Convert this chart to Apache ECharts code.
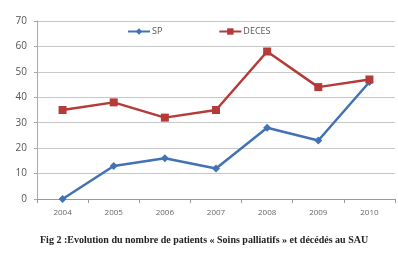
<!DOCTYPE html>
<html><head><meta charset="utf-8">
<script src="https://cdn.jsdelivr.net/npm/echarts@6/dist/echarts.min.js"></script>
<style>html,body{margin:0;padding:0;background:#fff}#c{width:398px;height:259px}</style>
</head><body><div id="c"></div>
<script>
const categories = ['2004','2005','2006','2007','2008','2009','2010'];
const sp = [0, 13, 16, 12, 28, 23, 46];
const deces = [35, 38, 32, 35, 58, 44, 47];
const yTicks = [0, 10, 20, 30, 40, 50, 60, 70];
const caption = 'Fig 2 :Evolution du nombre de patients « Soins palliatifs » et décédés au SAU';

const chart = echarts.init(document.getElementById('c'));
chart.setOption({
  animation: false,
  grid: {left: 37, right: 3, top: 21, height: 178},
  legend: {
    top: 22, left: 122, itemGap: 56, itemWidth: 22, itemHeight: 8,
    textStyle: {fontFamily: 'Open Sans, sans-serif', fontSize: 9, color: '#555', padding: [0,0,0,-3]},
    data: ['SP', 'DECES']
  },
  xAxis: {
    type: 'category', data: categories, boundaryGap: true,
    axisLine: {lineStyle: {color: '#999'}},
    axisTick: {show: true, lineStyle: {color: '#999'}, length: 4},
    axisLabel: {fontFamily: 'Open Sans, sans-serif', fontSize: 8, color: '#666', margin: 10}
  },
  yAxis: {
    type: 'value', min: yTicks[0], max: yTicks[yTicks.length-1], interval: 10,
    axisLine: {show: true, lineStyle: {color: '#aaa'}},
    axisTick: {show: true, length: 3, lineStyle: {color: '#aaa'}},
    splitLine: {lineStyle: {color: '#c8c8c8'}},
    axisLabel: {fontFamily: 'Open Sans, sans-serif', fontSize: 10, color: '#555', margin: 10}
  },
  series: [
    {name: 'SP', type: 'line', data: sp, symbol: 'diamond', symbolSize: 8,
     lineStyle: {color: '#4272b4', width: 2.5}, itemStyle: {color: '#4272b4'}},
    {name: 'DECES', type: 'line', data: deces, symbol: 'rect', symbolSize: 8,
     lineStyle: {color: '#b53a3a', width: 2.5}, itemStyle: {color: '#b53a3a'}}
  ],
  graphic: [{
    type: 'text', left: 40, top: 235,
    style: {text: caption, font: 'bold 10px "Liberation Serif", serif', fill: '#222'}
  }]
});
</script></body></html>
